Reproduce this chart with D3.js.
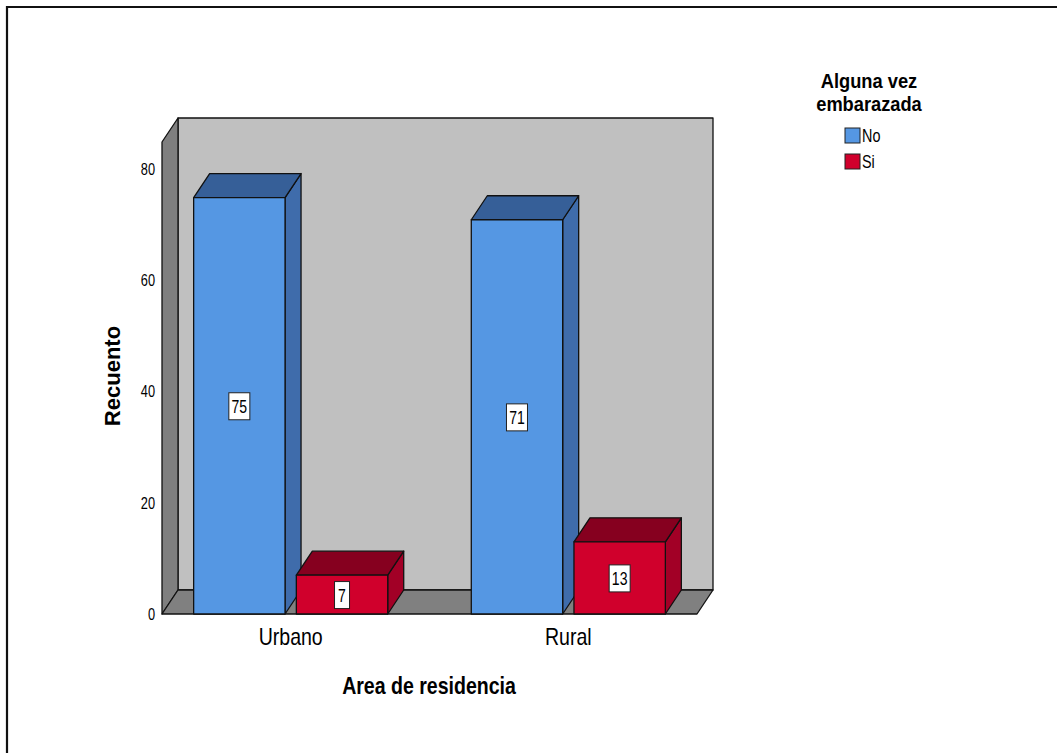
<!DOCTYPE html>
<html>
<head>
<meta charset="utf-8">
<script src="https://cdn.jsdelivr.net/npm/d3@7"></script>
<style>
  html, body { margin: 0; padding: 0; background: #fff; }
  svg { display: block; }
  text { font-family: "Liberation Sans", Arial, sans-serif; fill: #000; }
</style>
</head>
<body>
<svg id="chart" width="1057" height="753"></svg>
<script>
// Area de residencia vs. Alguna vez embarazada (recuento)
const categories = ["Urbano", "Rural"];
const seriesNames = ["No", "Si"];
const noValues = [75, 71];
const siValues = [7, 13];
const yTicks = [0, 20, 40, 60, 80];

const svg = d3.select("#chart");

// frame
svg.append("path")
  .attr("d", "M7,753 L7,7 L1057,7")
  .attr("fill", "none").attr("stroke", "#111").attr("stroke-width", 2.2);

// condensed text: horizontal squeeze around the anchor point
function ntext(parent, px, py, str, opts) {
  const o = Object.assign({ size: 16, sx: 0.85, anchor: "middle", weight: "normal", dy: null }, opts || {});
  const t = parent.append("text")
    .attr("transform", `translate(${px},${py}) scale(${o.sx},1)`)
    .attr("text-anchor", o.anchor)
    .attr("font-size", o.size)
    .attr("font-weight", o.weight)
    .text(str);
  if (o.dy) t.attr("dy", o.dy);
  return t;
}

// 3D depth offset
const dx = 16, dy = 24;
const floorY = 614;

const y = d3.scaleLinear().domain([0, 85]).range([floorY, 142]);
const x = d3.scaleBand().domain(categories).range([162, 697])
  .paddingInner(0.301).paddingOuter(0.114);
const xs = d3.scaleBand().domain(seriesNames).range([0, x.bandwidth()])
  .paddingInner(0.11).paddingOuter(0);

const colors = {
  No: { front: "#5597e3", top: "#365f98", side: "#3f6cab" },
  Si: { front: "#d0002c", top: "#86001f", side: "#a20026" }
};

const x0 = x.range()[0], x1 = x.range()[1];
const yTop = y(85);
const poly = pts => "M" + pts.map(p => p.join(",")).join("L") + "Z";

function shape(d, fill) {
  return svg.append("path").attr("d", d).attr("fill", fill)
    .attr("stroke", "#111").attr("stroke-width", 1.3).attr("stroke-linejoin", "round");
}

// back wall
shape(poly([[x0 + dx, yTop - dy], [x1 + dx, yTop - dy], [x1 + dx, floorY - dy], [x0 + dx, floorY - dy]]), "#c0c0c0");
// left wall
shape(poly([[x0, yTop], [x0 + dx, yTop - dy], [x0 + dx, floorY - dy], [x0, floorY]]), "#7f7f7f");
// floor
shape(poly([[x0, floorY], [x0 + dx, floorY - dy], [x1 + dx, floorY - dy], [x1, floorY]]), "#808080");

// y tick labels
const tickG = svg.append("g");
yTicks.forEach(v => ntext(tickG, 155, y(v), v, { size: 16, sx: 0.8, anchor: "end", dy: "0.35em" }));

// bars
const rows = [];
categories.forEach((c, i) => {
  rows.push({ cat: c, s: "No", v: noValues[i] });
  rows.push({ cat: c, s: "Si", v: siValues[i] });
});

rows.forEach(r => {
  const bx0 = x(r.cat) + xs(r.s);
  const bx1 = bx0 + xs.bandwidth();
  const by = y(r.v);
  const col = colors[r.s];
  shape(poly([[bx1, by], [bx1 + dx, by - dy], [bx1 + dx, floorY - dy], [bx1, floorY]]), col.side);
  shape(poly([[bx0, by], [bx0 + dx, by - dy], [bx1 + dx, by - dy], [bx1, by]]), col.top);
  shape(poly([[bx0, by], [bx1, by], [bx1, floorY], [bx0, floorY]]), col.front);
});

// value labels
rows.forEach(r => {
  const cx = x(r.cat) + xs(r.s) + xs.bandwidth() / 2;
  const cy = y(r.v / 2);
  const g = svg.append("g");
  const w = String(r.v).length > 1 ? 21 : 15;
  g.append("rect")
    .attr("x", cx - w / 2).attr("y", cy - 13)
    .attr("width", w).attr("height", 27)
    .attr("fill", "#fff").attr("stroke", "#222").attr("stroke-width", 1);
  ntext(g, cx, cy + 1, r.v, { size: 18, sx: 0.78, dy: "0.36em" });
});

// category labels
const catG = svg.append("g");
categories.forEach(c => ntext(catG, x(c) + x.bandwidth() / 2, 645, c, { size: 23, sx: 0.85 }));

// axis titles
ntext(svg, 429, 694, "Area de residencia", { size: 23, sx: 0.85, weight: "bold" });
svg.append("text").attr("transform", "translate(120,376) rotate(-90)")
  .attr("text-anchor", "middle").attr("font-size", 22).attr("font-weight", "bold")
  .text("Recuento");

// legend
const lg = svg.append("g");
ntext(lg, 869, 88, "Alguna vez", { size: 21, sx: 0.87, weight: "bold" });
ntext(lg, 869, 111, "embarazada", { size: 21, sx: 0.87, weight: "bold" });
seriesNames.forEach((s, i) => {
  const yy = 128 + i * 26;
  lg.append("rect").attr("x", 845).attr("y", yy).attr("width", 15).attr("height", 15)
    .attr("fill", colors[s].front).attr("stroke", "#222").attr("stroke-width", 1);
  ntext(lg, 862, yy + 8, s, { size: 18, sx: 0.8, anchor: "start", dy: "0.36em" });
});
</script>
</body>
</html>
